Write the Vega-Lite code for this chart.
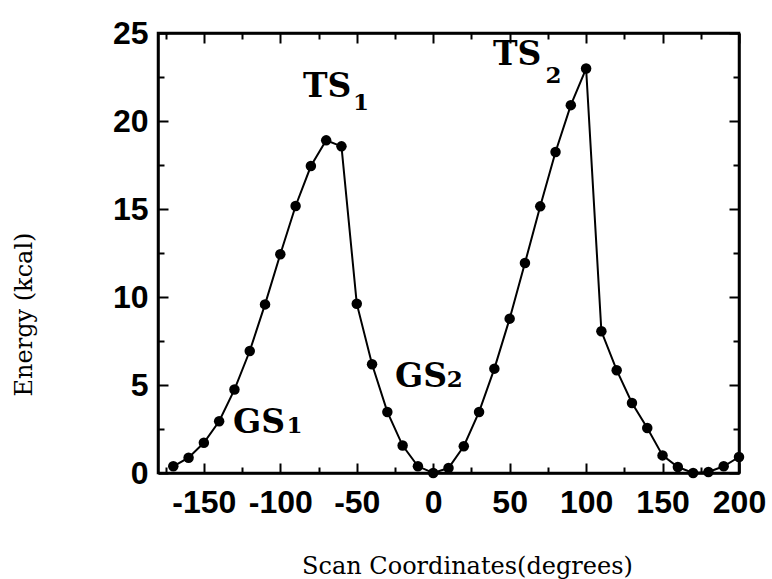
{
  "$schema": "https://vega.github.io/schema/vega-lite/v6.json",
  "width": 581,
  "height": 440,
  "autosize": {"type": "none"},
  "padding": {"left": 158, "top": 33, "right": 33, "bottom": 106},
  "background": "white",
  "config": {
    "view": {"stroke": "black", "strokeWidth": 2.5},
    "axis": {"grid": false, "domainColor": "black", "domainWidth": 2.5, "tickColor": "black", "tickWidth": 2, "labelColor": "black", "titleColor": "black"}
  },
  "datasets": {
    "scan": [
      {"angle": -170, "energy": 0.38},
      {"angle": -160, "energy": 0.87},
      {"angle": -150, "energy": 1.72},
      {"angle": -140, "energy": 2.94},
      {"angle": -130, "energy": 4.74},
      {"angle": -120, "energy": 6.93},
      {"angle": -110, "energy": 9.58},
      {"angle": -100, "energy": 12.43},
      {"angle": -90, "energy": 15.17},
      {"angle": -80, "energy": 17.44},
      {"angle": -70, "energy": 18.9},
      {"angle": -60, "energy": 18.56},
      {"angle": -50, "energy": 9.62},
      {"angle": -40, "energy": 6.18},
      {"angle": -30, "energy": 3.47},
      {"angle": -20, "energy": 1.56},
      {"angle": -10, "energy": 0.38},
      {"angle": 0, "energy": 0.0},
      {"angle": 10, "energy": 0.28},
      {"angle": 20, "energy": 1.52},
      {"angle": 30, "energy": 3.47},
      {"angle": 40, "energy": 5.93},
      {"angle": 50, "energy": 8.77},
      {"angle": 60, "energy": 11.93},
      {"angle": 70, "energy": 15.15},
      {"angle": 80, "energy": 18.24},
      {"angle": 90, "energy": 20.9},
      {"angle": 100, "energy": 22.98},
      {"angle": 110, "energy": 8.05},
      {"angle": 120, "energy": 5.84},
      {"angle": 130, "energy": 3.98},
      {"angle": 140, "energy": 2.56},
      {"angle": 150, "energy": 1.0},
      {"angle": 160, "energy": 0.34},
      {"angle": 170, "energy": 0.0},
      {"angle": 180, "energy": 0.06},
      {"angle": 190, "energy": 0.38},
      {"angle": 200, "energy": 0.91}
    ],
    "labels": [
      {"text": "TS", "kind": "main", "angle": -85.2, "energy": 21.36},
      {"text": "1", "kind": "sub", "angle": -52.5, "energy": 20.6},
      {"text": "TS", "kind": "main", "angle": 39.1, "energy": 23.18},
      {"text": "2", "kind": "sub", "angle": 73.5, "energy": 22.16},
      {"text": "GS", "kind": "main", "angle": -130.9, "energy": 2.27},
      {"text": "1", "kind": "sub", "angle": -96.0, "energy": 2.27},
      {"text": "GS", "kind": "main", "angle": -25.0, "energy": 4.89},
      {"text": "2", "kind": "sub", "angle": 8.8, "energy": 4.89}
    ]
  },
  "resolve": {"axis": {"x": "independent", "y": "independent"}},
  "layer": [
    {
      "data": {"name": "scan"},
      "mark": {"type": "line", "color": "black", "strokeWidth": 2},
      "encoding": {
        "x": {
          "field": "angle", "type": "quantitative",
          "scale": {"domain": [-180, 200], "nice": false, "zero": false},
          "axis": {
            "orient": "bottom",
            "values": [-175, -150, -125, -100, -75, -50, -25, 0, 25, 50, 75, 100, 125, 150, 175, 200],
            "labelExpr": "datum.value % 50 === 0 ? '' + datum.value : ''",
            "tickSize": {"condition": {"test": "datum.value % 50 === 0", "value": -10}, "value": -6},
            "labelPadding": 24,
            "labelFont": "Liberation Sans", "labelFontWeight": "bold", "labelFontSize": 32,
            "labelOverlap": false, "labelFlush": false,
            "title": "Scan Coordinates(degrees)",
            "titleFont": "DejaVu Serif", "titleFontWeight": "normal", "titleFontSize": 24,
            "titleBaseline": "alphabetic", "titleX": 309, "titleY": 100, "titleAnchor": "middle"
          }
        },
        "y": {
          "field": "energy", "type": "quantitative",
          "scale": {"domain": [0, 25], "nice": false},
          "axis": {
            "orient": "left",
            "values": [0, 2.5, 5, 7.5, 10, 12.5, 15, 17.5, 20, 22.5, 25],
            "labelExpr": "datum.value % 5 === 0 ? '' + datum.value : ''",
            "tickSize": {"condition": {"test": "datum.value % 5 === 0", "value": -10}, "value": -6},
            "labelPadding": 20,
            "labelFont": "Liberation Sans", "labelFontWeight": "bold", "labelFontSize": 32,
            "labelOverlap": false, "labelFlush": false,
            "title": "Energy (kcal)",
            "titleFont": "DejaVu Serif", "titleFontWeight": "normal", "titleFontSize": 24,
            "titleBaseline": "middle", "titleAngle": -90, "titleX": -134, "titleY": 281, "titleAnchor": "middle"
          }
        }
      }
    },
    {
      "data": {"name": "scan"},
      "mark": {"type": "point", "filled": true, "color": "black", "opacity": 1, "size": 110},
      "encoding": {
        "x": {
          "field": "angle", "type": "quantitative",
          "scale": {"domain": [-180, 200], "nice": false, "zero": false},
          "axis": {
            "orient": "top",
            "values": [-175, -150, -125, -100, -75, -50, -25, 0, 25, 50, 75, 100, 125, 150, 175, 200],
            "labels": false, "title": null,
            "tickSize": {"condition": {"test": "datum.value % 50 === 0", "value": -10}, "value": -6}
          }
        },
        "y": {
          "field": "energy", "type": "quantitative",
          "scale": {"domain": [0, 25], "nice": false},
          "axis": {
            "orient": "right",
            "values": [0, 2.5, 5, 7.5, 10, 12.5, 15, 17.5, 20, 22.5, 25],
            "labels": false, "title": null,
            "tickSize": {"condition": {"test": "datum.value % 5 === 0", "value": -10}, "value": -6}
          }
        }
      }
    },
    {
      "data": {"name": "labels"},
      "transform": [{"filter": "datum.kind === 'main'"}],
      "mark": {"type": "text", "align": "left", "baseline": "alphabetic", "font": "DejaVu Serif", "fontWeight": "bold", "fontSize": 33, "color": "black"},
      "encoding": {
        "x": {"field": "angle", "type": "quantitative", "scale": {"domain": [-180, 200], "nice": false, "zero": false}, "axis": null},
        "y": {"field": "energy", "type": "quantitative", "scale": {"domain": [0, 25], "nice": false}, "axis": null},
        "text": {"field": "text"}
      }
    },
    {
      "data": {"name": "labels"},
      "transform": [{"filter": "datum.kind === 'sub'"}],
      "mark": {"type": "text", "align": "left", "baseline": "alphabetic", "font": "DejaVu Serif", "fontWeight": "bold", "fontSize": 23, "color": "black"},
      "encoding": {
        "x": {"field": "angle", "type": "quantitative", "scale": {"domain": [-180, 200], "nice": false, "zero": false}, "axis": null},
        "y": {"field": "energy", "type": "quantitative", "scale": {"domain": [0, 25], "nice": false}, "axis": null},
        "text": {"field": "text"}
      }
    }
  ]
}
